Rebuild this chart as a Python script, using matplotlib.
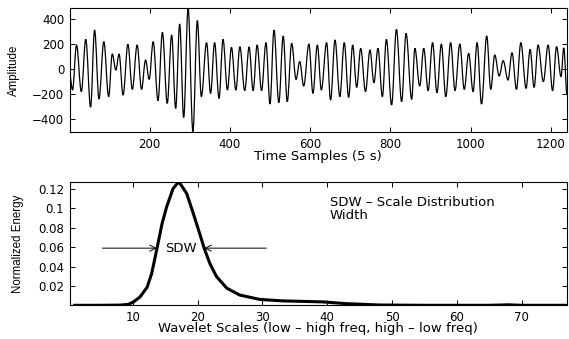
import matplotlib
matplotlib.use("Agg")
import matplotlib.pyplot as plt
from matplotlib.path import Path
from matplotlib.patches import PathPatch

plt.rcParams['font.family'] = ['DejaVu Sans']

# top panel: turning points of the signal (sample, amplitude)
sig_samples = [1, 8, 18, 30, 41, 53, 63, 74, 86, 98, 107, 116, 124, 134, 146, 157, 169, 180,
               190, 199, 209, 221, 232, 244, 255, 265, 275, 285, 296, 308, 319, 329, 342, 352,
               362, 373, 383, 394, 404, 415, 425, 437, 448, 458, 468, 479, 490, 500, 510, 522,
               533, 543, 554, 565, 574, 584, 597, 607, 618, 628, 641, 651, 662, 674, 685, 696,
               706, 716, 726, 738, 749, 759, 769, 780, 790, 803, 815, 828, 839, 853, 861, 873,
               883, 894, 905, 916, 927, 938, 950, 961, 973, 984, 995, 1006, 1016, 1027, 1040,
               1050, 1060, 1071, 1081, 1093, 1103, 1114, 1125, 1138, 1148, 1158, 1168, 1181,
               1193, 1204, 1214, 1225, 1232, 1240]
sig_values = [-50, -172, 188, -185, 233, -309, 308, -244, 215, -225, 116, -12, 116, -212, 193,
              -167, 188, -167, 68, -87, 215, -257, 289, -279, 268, -319, 356, -391, 484, -505,
              383, -225, 207, -199, 207, -239, 233, -172, 169, -172, 174, -177, 172, -177, 188,
              -177, 207, -284, 308, -273, 260, -265, 201, -87, 55, -140, 196, -199, 188, -172,
              207, -252, 228, -225, 207, -231, 188, -151, 161, -185, 148, -113, 161, -225, 233,
              -292, 313, -265, 281, -247, 161, -140, 161, -177, 207, -193, 196, -225, 207, -177,
              196, -167, 121, -185, 207, -284, 260, -167, 108, -60, 62, -92, 126, -167, 207,
              -159, 153, -151, 188, -105, 188, -177, 175, -65, 165, -212]

# bottom panel: energy distribution over wavelet scales
scales = [1, 5, 8, 9.3, 10.1, 11.1, 12.2, 12.9, 13.7, 14.5, 15.2, 16.2, 17.1, 18.3, 19.3,
          20.4, 21.0, 21.9, 22.9, 24.5, 26.5, 29.6, 33.2, 39.3, 42.9, 48.1, 55, 65, 68, 70, 77]
energy = [0.0005, 0.0005, 0.0007, 0.0015, 0.004, 0.009, 0.019, 0.033, 0.058, 0.084, 0.101,
          0.120, 0.127, 0.115, 0.095, 0.072, 0.059, 0.043, 0.030, 0.018, 0.011, 0.0065,
          0.005, 0.004, 0.0022, 0.0008, 0.0005, 0.0005, 0.001, 0.0005, 0.0005]

sdw_level = 0.059
sdw_left, sdw_right = 13.7, 21.0

fs = 8.5
ylab_font = dict(fontsize=8.3, family=['Liberation Sans', 'DejaVu Sans'])
fig = plt.figure(figsize=(5.69, 3.39), dpi=100)
ax1 = fig.add_axes([0.1225, 0.6106, 0.874, 0.3658])
ax2 = fig.add_axes([0.1225, 0.0994, 0.874, 0.3646])

# smooth signal: cubic bezier between turning points, flat tangent at each one
k = 0.364
verts = [(sig_samples[0], sig_values[0])]
codes = [Path.MOVETO]
for x0, y0, x1, y1 in zip(sig_samples[:-1], sig_values[:-1], sig_samples[1:], sig_values[1:]):
    d = x1 - x0
    verts += [(x0 + k * d, y0), (x1 - k * d, y1), (x1, y1)]
    codes += [Path.CURVE4] * 3
ax1.add_patch(PathPatch(Path(verts, codes), facecolor='none', edgecolor='black', lw=0.9))
ax1.set_xlim(1, 1240)
ax1.set_ylim(-508, 484)
ax1.set_xticks([200, 400, 600, 800, 1000, 1200])
ax1.set_yticks([-400, -200, 0, 200, 400])
ax1.set_xlabel("Time Samples (5 s)", fontsize=9.5, labelpad=-0.5)
ax1.set_ylabel("Amplitude", labelpad=8.5, **ylab_font)

ax2.plot(scales, energy, color='black', lw=2.2, solid_joinstyle='round')
ax2.set_xlim(0.25, 77)
ax2.set_ylim(0.0005, 0.127)
ax2.set_xticks([10, 20, 30, 40, 50, 60, 70])
ax2.set_yticks([0.02, 0.04, 0.06, 0.08, 0.1, 0.12])
ax2.set_yticklabels(["0.02", "0.04", "0.06", "0.08", "0.1", "0.12"])
ax2.set_xlabel("Wavelet Scales (low – high freq, high – low freq)", fontsize=9.5, labelpad=-1)
ax2.set_ylabel("Normalized Energy", labelpad=10, **ylab_font)

arrow = dict(arrowstyle='->', lw=0.7, color='black', shrinkA=0, shrinkB=0, mutation_scale=11)
ax2.annotate("", xy=(sdw_left, sdw_level), xytext=(5.3, sdw_level), arrowprops=arrow)
ax2.annotate("", xy=(sdw_right, sdw_level), xytext=(30.6, sdw_level), arrowprops=arrow)
ax2.text((sdw_left + sdw_right) / 2 + 0.1, sdw_level, "SDW", ha='center', va='center', fontsize=9.5)
ax2.text(40.4, 0.1125, "SDW – Scale Distribution\nWidth", ha='left', va='top',
         fontsize=9.5, linespacing=1.0)

for ax in (ax1, ax2):
    ax.tick_params(direction='in', top=True, right=True, labelsize=fs, length=3.5, width=0.7, pad=4)
    for sp in ax.spines.values():
        sp.set_linewidth(0.8)

fig.savefig("out.png", dpi=100)
